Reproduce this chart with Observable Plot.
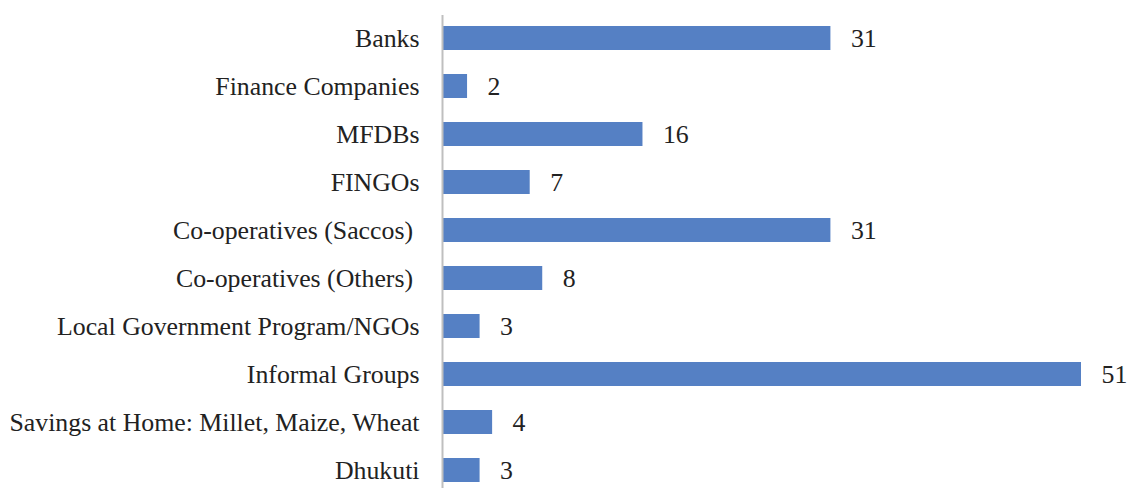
<!DOCTYPE html>
<html>
<head>
<meta charset="utf-8">
<script src="https://cdn.jsdelivr.net/npm/d3@7"></script>
<script src="https://cdn.jsdelivr.net/npm/@observablehq/plot@0.6"></script>
<style>
  html, body { margin: 0; padding: 0; background: #fff; }
  svg text { white-space: pre; }
</style>
</head>
<body>
<div id="chart"></div>
<script>
const categories = [
  "Banks",
  "Finance Companies",
  "MFDBs",
  "FINGOs",
  "Co-operatives (Saccos) ",
  "Co-operatives (Others) ",
  "Local Government Program/NGOs",
  "Informal Groups",
  "Savings at Home: Millet, Maize, Wheat",
  "Dhukuti"
];
const values = [31, 2, 16, 7, 31, 8, 3, 51, 4, 3];

const data = categories.map((c, i) => ({category: c, value: values[i]}));

const chart = Plot.plot({
  width: 1128,
  height: 488,
  marginLeft: 442,
  marginRight: 47,
  marginTop: 15,
  marginBottom: 0,
  style: {fontFamily: "'Liberation Serif', 'Times New Roman', serif", fontSize: "25.8px", color: "#222", background: "#fff"},
  x: {domain: [0, 51], axis: null},
  y: {domain: categories, range: [14, 494], paddingInner: 0.5, paddingOuter: 0.25, label: null},
  marks: [
    Plot.barX(data, {y: "category", x: "value", fill: "#5580C4"}),
    Plot.text(data, {y: "category", x: "value", text: d => String(d.value), textAnchor: "start", dx: 20, fill: "#222", fontSize: 25.8}),
    Plot.ruleX([0], {stroke: "#bfbfbf", strokeWidth: 2}),
    Plot.axisY({tickSize: 0, tickPadding: 23, fontSize: 25.8, fill: "#222", label: null})
  ]
});
document.getElementById("chart").appendChild(chart);
</script>
</body>
</html>
